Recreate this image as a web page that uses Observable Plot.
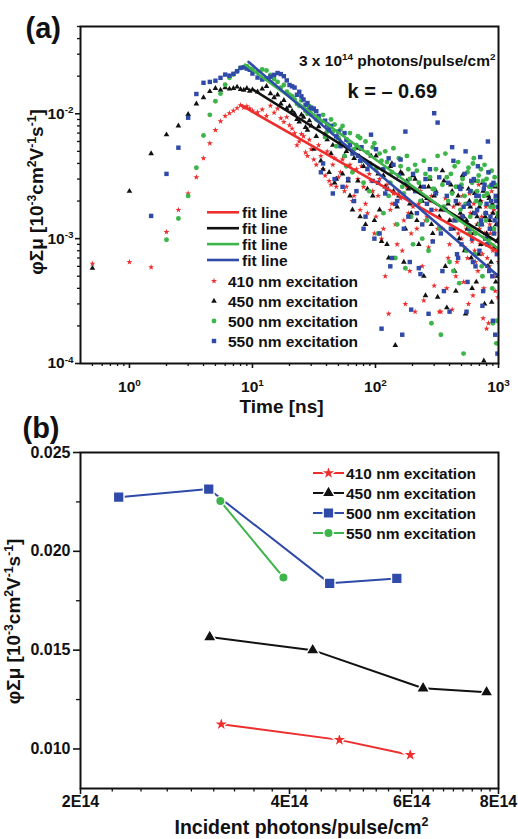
<!DOCTYPE html>
<html><head><meta charset="utf-8">
<script src="https://cdn.jsdelivr.net/npm/d3@7"></script>
<script src="https://cdn.jsdelivr.net/npm/@observablehq/plot@0.6"></script>
<style>
body{margin:0;background:#fff;}
#chart{width:518px;height:839px;position:relative;overflow:hidden;background:#fff}
#chart svg{display:block;position:absolute;left:0}
</style></head><body><div id="chart"></div>
<script>
// ---------- Panel (a): transient photoconductivity vs time ----------
const time = [0.5,1,1.5,2,2.5,3,3.5,4,4.5,5,5.5,6,6.5,7,7.5,8,8.5,9,9.5,10,
  11,12,13,14,15,16,17,18,19,20,
  22,24,26,28,30,33,36,39,42,45,48,52,56,60,65,70,75,80,86,92,98,
  105,112,120,128,136,145,155,165,175,185,195,
  210,225,240,255,270,285,300,
  320,340,360,380,400,420,440,460,480,500,520,540,560,580,600,620,640,660,680,700,720,740,760,780,800,820,840,860,880,900,920,940,960,980,1000];

const red410 = [6.3e-4,6.5e-4,5.9e-4,1.13e-3,1.7e-3,2.3e-3,3.1e-3,4.4e-3,5.8e-3,7.4e-3,8.7e-3,9.6e-3,1.01e-2,1.06e-2,1.11e-2,1.17e-2,1.12e-2,1.15e-2,1.10e-2,1.06e-2,
  1.03e-2,1.08e-2,9.6e-3,1.16e-2,1.02e-2,1.1e-2,9.2e-3,8.6e-3,9.4e-3,8.1e-3,
  7.0e-3,6.0e-3,6.6e-3,4.6e-3,5.2e-3,3.9e-3,4.6e-3,3.2e-3,2.9e-3,3.9e-3,2.6e-3,3.4e-3,2.4e-3,3.0e-3,2.0e-3,3.6e-3,1.7e-3,2.6e-3,1.6e-3,2.9e-3,1.1e-3,
  2.2e-3,1.0e-3,5.0e-4,2.5e-4,1.9e-3,1.3e-3,2.4e-3,8.0e-4,3.0e-4,1.6e-3,1.1e-3,
  2.6e-4,1.9e-3,6.0e-4,1.4e-3,8.5e-4,2.2e-3,4.2e-4,
  1.2e-3,2.6e-4,1.7e-3,4.0e-4,9.0e-4,2.7e-4,1.5e-3,6.5e-4,1.9e-3,1.0e-3,4.5e-4,1.3e-3,7.0e-4,2.3e-3,1.1e-3,3.5e-4,8.0e-4,1.6e-3,5.5e-4,1.2e-3,2.0e-3,7.5e-4,4.0e-4,1.0e-3,1.9e-4,1.4e-3,6.0e-4,1.1e-3,2.4e-3,8.0e-4,1.7e-3,3.8e-4,9.5e-4,1.3e-3,6.5e-4];

const black450 = [5.8e-4,2.4e-3,4.8e-3,6.8e-3,8.0e-3,9.9e-3,1.2e-2,1.35e-2,1.51e-2,1.6e-2,1.55e-2,1.62e-2,1.58e-2,1.6e-2,1.64e-2,1.57e-2,1.55e-2,1.6e-2,1.52e-2,1.56e-2,
  1.5e-2,1.58e-2,1.66e-2,1.45e-2,1.35e-2,1.42e-2,1.2e-2,1.28e-2,1.1e-2,1.15e-2,
  1.0e-2,8.6e-3,9.4e-3,7.4e-3,8.0e-3,6.6e-3,4.2e-3,6.9e-3,3.4e-3,5.6e-3,3.0e-3,6.0e-3,4.6e-3,2.9e-3,1.7e-3,5.3e-3,1.5e-3,3.8e-3,2.5e-3,4.6e-3,1.4e-3,
  3.3e-3,9.5e-4,2.6e-3,7.0e-4,4.0e-3,1.4e-4,2.2e-3,3.3e-3,1.2e-3,2.5e-3,1.6e-3,
  3.0e-3,9.0e-4,2.0e-3,3.5e-4,2.6e-3,1.3e-3,2.2e-3,
  3.4e-4,1.7e-3,2.9e-3,2.8e-4,1.4e-3,2.4e-3,5.5e-4,1.9e-3,1.0e-3,2.6e-3,1.5e-3,2.5e-4,1.2e-3,2.0e-3,7.0e-4,1.6e-3,2.3e-3,4.5e-4,1.3e-3,1.8e-3,9.0e-4,2.8e-3,1.05e-4,1.5e-3,1.1e-3,6.0e-4,2.1e-3,1.2e-3,3.1e-4,1.6e-3,8.5e-4,2.6e-3,1.3e-3,5.0e-4,1.0e-3];

const green500 = [null,null,null,9.8e-4,1.45e-3,2.2e-3,3.7e-3,6.7e-3,9.8e-3,1.26e-2,1.45e-2,1.71e-2,1.94e-2,2.06e-2,2.19e-2,2.33e-2,2.36e-2,2.4e-2,2.3e-2,2.25e-2,
  2.18e-2,2.26e-2,2.22e-2,2.05e-2,1.9e-2,1.8e-2,1.62e-2,1.7e-2,1.5e-2,1.42e-2,
  1.3e-2,1.16e-2,1.12e-2,1.0e-2,9.8e-3,9.0e-3,8.6e-3,6.5e-3,8.0e-3,7.2e-3,5.5e-3,7.5e-3,4.6e-3,6.0e-3,3.4e-3,5.6e-3,6.4e-3,2.8e-3,4.9e-3,3.9e-3,5.8e-3,
  1.1e-3,4.2e-3,5.0e-3,2.2e-3,3.4e-3,7.0e-4,4.4e-3,2.6e-3,5.8e-4,3.6e-3,1.5e-3,
  3.9e-3,2.8e-3,1.0e-3,3.3e-3,8.0e-4,2.1e-4,2.5e-3,
  4.6e-3,1.7e-4,1.8e-3,3.1e-3,6.5e-4,2.3e-3,3.8e-3,1.4e-3,4.4e-4,2.7e-3,1.2e-4,1.9e-3,3.4e-3,1.1e-3,2.4e-3,4.0e-3,7.5e-4,2.0e-3,2.9e-3,1.3e-3,3.6e-3,5.0e-4,2.2e-3,1.6e-3,3.0e-3,9.0e-4,2.6e-3,1.8e-3,3.5e-3,2.1e-4,1.2e-3,2.7e-3,1.45e-4,2.0e-3,1.5e-3];

const blue550 = [null,null,1.52e-3,3.3e-3,5.35e-3,9.3e-3,1.44e-2,1.77e-2,1.8e-2,1.84e-2,1.94e-2,2.06e-2,2.02e-2,2.09e-2,2.19e-2,2.33e-2,2.36e-2,2.3e-2,2.25e-2,2.1e-2,
  1.95e-2,1.88e-2,1.92e-2,1.98e-2,2.05e-2,2.12e-2,2.08e-2,2.0e-2,1.85e-2,1.7e-2,
  1.62e-2,1.5e-2,1.3e-2,1.22e-2,1.12e-2,1.05e-2,3.4e-3,8.8e-3,7.5e-3,2.3e-3,6.6e-3,5.5e-3,7.0e-3,3.0e-3,4.8e-3,2.4e-3,4.2e-3,1.2e-3,3.6e-3,6.8e-3,1.0e-3,
  2.8e-3,1.9e-4,2.3e-3,4.4e-3,7.0e-4,1.9e-3,3.2e-3,1.7e-4,7.2e-3,1.5e-3,2.7e-4,
  2.4e-3,5.8e-4,1.3e-3,3.0e-3,2.5e-4,1.7e-3,1.01e-2,
  8.5e-3,1.1e-3,3.8e-4,2.2e-3,2.6e-4,5.4e-3,1.4e-3,7.5e-4,2.6e-3,9.0e-4,1.8e-3,5.0e-3,4.5e-4,1.2e-3,2.9e-3,6.5e-4,1.6e-3,2.2e-3,3.8e-3,8.0e-4,1.4e-3,2.9e-4,2.5e-3,1.0e-3,1.9e-3,6.0e-3,5.5e-4,1.5e-3,2.7e-3,2.2e-4,1.1e-3,1.7e-4,2.0e-3,1.2e-4,1.3e-3];

// second, interleaved set of sampling times (dense decay tail)
const time2 = [21,23,25,27,29,31.5,34.5,37.5,40.5,43.5,46.5,50,54,58,62,67,72,77,83,89,95,
  101,108,116,124,132,140,150,160,170,180,190,202,217,232,247,262,277,292,
  310,330,350,370,390,410,430,450,470,490,510,530,550,570,590,610,630,650,670,690,710,730,750,770,790,810,830,850,870,890,910,930,950,970,990];

const red410b = [7.6e-3,5.6e-3,6.9e-3,4.9e-3,6.2e-3,4.3e-3,5.6e-3,3.6e-3,5.0e-3,2.7e-3,4.4e-3,3.1e-3,4.3e-3,2.6e-3,3.9e-3,2.2e-3,3.0e-3,3.8e-3,1.9e-3,3.3e-3,2.4e-3,
  1.5e-3,3.0e-3,1.2e-3,2.7e-3,1.7e-3,2.3e-3,9.0e-4,2.1e-3,1.4e-3,2.6e-3,5.5e-4,1.8e-3,1.2e-3,2.4e-3,3.2e-4,1.5e-3,2.0e-3,9.5e-4,
  1.7e-3,2.6e-4,1.2e-3,2.1e-3,7.0e-4,1.4e-3,1.8e-3,5.0e-4,1.1e-3,1.5e-3,2.2e-3,8.5e-4,1.2e-3,3.0e-4,1.6e-3,9.5e-4,1.9e-3,6.5e-4,1.3e-3,2.7e-3,9.0e-4,1.5e-3,2.3e-4,1.1e-3,1.8e-3,7.0e-4,2.1e-4,1.3e-3,9.0e-4,1.6e-3,5.0e-4,1.1e-3,2.0e-3,8.0e-4,3.4e-4];

const black450b = [1.05e-2,9.0e-3,9.8e-3,7.8e-3,8.8e-3,5.2e-3,7.9e-3,3.6e-3,6.2e-3,4.8e-3,2.8e-3,6.4e-3,3.3e-3,5.0e-3,2.2e-3,4.4e-3,2.9e-3,5.2e-3,1.3e-3,3.9e-3,2.2e-3,
  4.6e-3,1.7e-3,3.2e-3,9.0e-4,3.8e-3,2.4e-3,1.8e-3,3.4e-3,6.5e-4,2.9e-3,1.9e-3,3.2e-3,1.4e-3,2.6e-3,5.0e-4,2.1e-3,3.0e-3,1.1e-3,
  2.4e-3,1.5e-3,3.5e-3,6.0e-4,1.9e-3,2.7e-3,1.2e-3,3.8e-4,2.2e-3,1.6e-3,3.2e-3,8.0e-4,1.4e-3,2.5e-3,1.8e-3,4.0e-4,1.1e-3,2.9e-3,1.5e-3,7.5e-4,2.0e-3,1.3e-3,2.4e-3,3.0e-4,1.6e-3,1.0e-3,2.2e-3,1.4e-3,6.5e-4,1.9e-3,1.2e-3,2.7e-3,4.5e-4,1.5e-3,2.0e-3];

const green500b = [1.38e-2,1.2e-2,1.28e-2,1.05e-2,1.15e-2,1.08e-2,8.8e-3,9.8e-3,7.2e-3,9.0e-3,8.2e-3,6.4e-3,8.0e-3,3.8e-3,7.0e-3,5.2e-3,6.6e-3,4.2e-3,6.0e-3,2.4e-3,5.4e-3,
  3.6e-3,4.8e-3,1.6e-3,4.1e-3,2.8e-3,5.3e-3,1.3e-3,3.8e-3,2.3e-3,4.6e-3,3.0e-3,9.0e-4,3.5e-3,2.0e-3,4.2e-3,1.4e-3,3.1e-3,2.5e-3,
  3.6e-3,1.2e-3,2.7e-3,4.8e-3,2.0e-3,3.3e-3,5.5e-4,2.6e-3,4.1e-3,1.7e-3,3.0e-3,2.2e-3,8.0e-4,3.7e-3,1.5e-3,2.8e-3,4.4e-3,1.1e-3,2.4e-3,3.2e-3,1.9e-3,6.0e-4,2.9e-3,3.9e-3,1.4e-3,2.3e-3,3.4e-3,1.0e-3,2.6e-3,4.0e-4,1.8e-3,3.1e-3,2.1e-3,2.2e-4,1.6e-3];

const blue550b = [1.66e-2,1.42e-2,1.38e-2,1.18e-2,1.08e-2,1.1e-2,9.6e-3,4.0e-3,8.2e-3,8.0e-3,3.0e-3,7.2e-3,2.6e-3,6.2e-3,5.6e-3,2.0e-3,4.6e-3,5.4e-3,1.5e-3,4.0e-3,2.9e-3,
  5.2e-3,1.1e-3,3.6e-3,2.5e-3,6.0e-4,3.9e-3,2.0e-3,4.3e-3,1.2e-3,2.8e-3,6.5e-4,3.3e-3,1.6e-3,5.2e-4,2.6e-3,1.9e-3,3.6e-3,9.5e-4,
  2.3e-3,3.1e-3,5.5e-4,1.7e-3,2.8e-3,1.2e-3,4.2e-3,2.0e-3,7.0e-4,2.5e-3,1.5e-3,3.3e-3,2.6e-4,1.9e-3,2.4e-3,1.0e-3,3.0e-3,6.0e-4,1.7e-3,2.2e-3,4.5e-3,1.3e-3,3.8e-4,2.7e-3,1.6e-3,9.0e-4,3.4e-3,1.2e-3,2.0e-3,5.0e-4,2.8e-3,1.4e-3,2.2e-3,7.5e-4,1.8e-3];

// fitted power-law lines (start / end points)
const fitRed   = [[8.2, 0.0116], [1000, 7.8e-4]];
const fitBlack = [[10.1, 0.0156], [1000, 9.3e-4]];
const fitGreen = [[8.7, 0.0248], [1000, 8.3e-4]];
const fitBlue  = [[9.3, 0.0260], [1000, 5.0e-4]];

const legendNamesA = ["410 nm excitation", "450 nm excitation", "500 nm excitation", "550 nm excitation"];

// ---------- Panel (b): peak value vs incident photon density ----------
const photons410 = [3.19e14, 4.72e14, 5.97e14];
const mob410     = [0.01125, 0.01046, 0.0097];
const photons450 = [3.07e14, 4.32e14, 6.23e14, 7.69e14];
const mob450     = [0.01566, 0.0150, 0.01307, 0.01287];
const photons500 = [2.27e14, 3.06e14, 4.57e14, 5.71e14];
const mob500     = [0.02274, 0.02315, 0.01838, 0.01863];
const photons550 = [3.18e14, 3.92e14];
const mob550     = [0.02254, 0.01868];

const legendNamesB = ["410 nm excitation", "450 nm excitation", "500 nm excitation", "550 nm excitation"];

// ---------- styles ----------
const FONT = "'Liberation Sans', Arial, Helvetica, sans-serif";
const C = {red: "#ee2d2d", black: "#111111", green: "#3db54a", blue: "#2f4aa8"};
const INK = "#111";
const supMap = {"-":"⁻","0":"⁰","1":"¹","2":"²","3":"³","4":"⁴","5":"⁵","6":"⁶","7":"⁷","8":"⁸","9":"⁹"};
const unsup = {"⁻":"-","⁰":"0","¹":"1","²":"2","³":"3","⁴":"4","⁵":"5","⁶":"6","⁷":"7","⁸":"8","⁹":"9"};
const pow10 = d => "10" + String(Math.round(Math.log10(d))).split("").map(c => supMap[c]).join("");
const symMap = {star: d3.symbolStar, triangle: d3.symbolTriangle, circle: d3.symbolCircle, square: d3.symbolSquare};

const xMajorA = [1, 10, 100, 1000];
const yMajorA = [1e-4, 1e-3, 1e-2];
const xMinorA = [], yMinorA = [];
for (let e = -1; e <= 2; e++) for (let k = 2; k <= 9; k++) { const v = k * Math.pow(10, e); if (v > 0.4 && v < 1000) xMinorA.push(v); }
for (let e = -4; e <= -2; e++) for (let k = 2; k <= 9; k++) { const v = k * Math.pow(10, e); if (v <= 0.05) yMinorA.push(v); }

const seriesA = [
  {v: red410,   v2: red410b,   color: C.red,   symbol: "star",     r: 1.9},
  {v: black450, v2: black450b, color: C.black, symbol: "triangle", r: 2.1},
  {v: green500, v2: green500b, color: C.green, symbol: "circle",   r: 2.45},
  {v: blue550,  v2: blue550b,  color: C.blue,  symbol: "square",   r: 2.5}
];
const fitsA = [[fitRed, C.red], [fitBlack, C.black], [fitGreen, C.green], [fitBlue, C.blue]];

const yTitle = "φΣμ [10⁻³cm²V⁻¹s⁻¹]";

const svgA = Plot.plot({
  width: 518, height: 420,
  marginLeft: 80, marginRight: 20, marginTop: 26, marginBottom: 57,
  style: {fontFamily: FONT, fontWeight: "bold", color: INK, background: "transparent"},
  x: {type: "log", domain: [0.4, 1000]},
  y: {type: "log", domain: [1e-4, 0.05]},
  marks: [
    ...seriesA.flatMap(s => [
      Plot.dot(time,  {x: d => d, y: (d, i) => s.v[i],  symbol: s.symbol, r: s.r, fill: s.color, clip: true}),
      Plot.dot(time2, {x: d => d, y: (d, i) => s.v2[i], symbol: s.symbol, r: s.r, fill: s.color, clip: true})
    ]),
    ...fitsA.map(([f, c]) => Plot.line(f, {x: d => d[0], y: d => d[1], stroke: c, strokeWidth: 2.6, clip: true})),
    Plot.axisX({ticks: xMajorA, tickFormat: pow10, tickSize: 5, tickPadding: 12, fontSize: 15.5, fontWeight: "bold", strokeWidth: 1.6, label: null}),
    Plot.axisX({ticks: xMinorA, tickFormat: () => "", tickSize: 3, strokeWidth: 1.3, label: null}),
    Plot.axisY({ticks: yMajorA, tickFormat: pow10, tickSize: 5, tickPadding: 2, fontSize: 15.5, fontWeight: "bold", strokeWidth: 1.6, label: null}),
    Plot.axisY({ticks: yMinorA, tickFormat: () => "", tickSize: 3, strokeWidth: 1.3, label: null}),
    Plot.frame({stroke: INK, strokeWidth: 2}),
    Plot.text(["(a)"], {text: d => d, frameAnchor: "top-left", dx: -55, dy: 11, textAnchor: "start", lineAnchor: "bottom", fontSize: 29, fontWeight: "bold", fill: INK}),
    Plot.text(["3 x 10¹⁴ photons/pulse/cm²"], {text: d => d, frameAnchor: "top-right", dx: -3, dy: 39, textAnchor: "end", lineAnchor: "bottom", fontSize: 15.5, fontWeight: "bold", fill: INK}),
    Plot.text(["k = – 0.69"], {text: d => d, frameAnchor: "top-left", dx: 267, dy: 71, textAnchor: "start", lineAnchor: "bottom", fontSize: 20, fontWeight: "bold", fill: INK}),
    Plot.text(["Time [ns]"], {text: d => d, frameAnchor: "bottom", dx: -8, dy: 49, textAnchor: "middle", lineAnchor: "bottom", fontSize: 19, fontWeight: "bold", fill: INK}),
    Plot.text([yTitle], {text: d => d, frameAnchor: "left", dx: -44, dy: -3, rotate: -90, textAnchor: "middle", lineAnchor: "middle", fontSize: 19, fontWeight: "bold", fill: INK})
  ]
});

// legend (a)
{
  const g = d3.select(svgA).append("g").attr("font-family", FONT).attr("font-weight", "bold")
    .attr("font-size", 15.5).attr("fill", INK).attr("text-anchor", "start");
  fitsA.forEach(([f, c], i) => {
    const y = 212.3 + i * 15.9;
    g.append("line").attr("x1", 207).attr("x2", 239).attr("y1", y).attr("y2", y).attr("stroke", c).attr("stroke-width", 2.6);
    g.append("text").attr("x", 242).attr("y", y).attr("dy", "0.36em").text("fit line");
  });
  seriesA.forEach((s, i) => {
    const y = 281 + i * 20;
    g.append("path").attr("transform", `translate(214,${y})`).attr("fill", s.color)
      .attr("d", d3.symbol(symMap[s.symbol], Math.PI * s.r * s.r)());
    g.append("text").attr("x", 228).attr("y", y).attr("dy", "0.36em").text(legendNamesA[i]);
  });
}

// ---------- Panel (b) ----------
const seriesB = [
  {x: photons410, y: mob410, color: C.red,   symbol: "star",     r: 4.9},
  {x: photons450, y: mob450, color: C.black, symbol: "triangle", r: 4.9},
  {x: photons500, y: mob500, color: C.blue,  symbol: "square",   r: 6.0},
  {x: photons550, y: mob550, color: C.green, symbol: "circle",   r: 4.7}
];
const xMajorB = [2e14, 4e14, 6e14, 8e14];
const xMinorB = [];
for (let a = 2; a < 8; a += 2) for (let k = 1; k <= 8; k++) xMinorB.push((a + k * 2 / 9) * 1e14);
const yMajorB = [0.010, 0.015, 0.020, 0.025];
const yMinorB = [0.0125, 0.0175, 0.0225];

const svgB = Plot.plot({
  width: 518, height: 439,
  marginLeft: 80, marginRight: 20, marginTop: 52, marginBottom: 51,
  style: {fontFamily: FONT, fontWeight: "bold", color: INK, background: "transparent"},
  x: {type: "log", domain: [2e14, 8e14]},
  y: {domain: [0.008, 0.025]},
  marks: [
    ...seriesB.map(s => Plot.line(s.x, {x: d => d, y: (d, i) => s.y[i], stroke: s.color, strokeWidth: 2})),
    ...seriesB.map(s => Plot.dot(s.x, {x: d => d, y: (d, i) => s.y[i], symbol: s.symbol, r: s.r, fill: s.color, stroke: "white", strokeWidth: 1.4})),
    Plot.axisX({ticks: xMajorB, tickFormat: d => Math.round(d / 1e14) + "E14", tickSize: 6, tickPadding: 1, fontSize: 16, fontWeight: "bold", strokeWidth: 1.6, label: null}),
    Plot.axisX({ticks: xMinorB, tickFormat: () => "", tickSize: 3.5, strokeWidth: 1.3, label: null}),
    Plot.axisY({ticks: yMajorB, tickFormat: d3.format(".3f"), tickSize: 7, tickPadding: 3, fontSize: 16, fontWeight: "bold", strokeWidth: 1.6, label: null}),
    Plot.axisY({ticks: yMinorB, tickFormat: () => "", tickSize: 4, strokeWidth: 1.3, label: null}),
    Plot.frame({stroke: INK, strokeWidth: 2}),
    Plot.text(["(b)"], {text: d => d, frameAnchor: "top-left", dx: -58, dy: -15, textAnchor: "start", lineAnchor: "bottom", fontSize: 29, fontWeight: "bold", fill: INK}),
    Plot.text(["Incident photons/pulse/cm²"], {text: d => d, frameAnchor: "bottom", dx: 12, dy: 45, textAnchor: "middle", lineAnchor: "bottom", fontSize: 19.5, fontWeight: "bold", fill: INK}),
    Plot.text([yTitle], {text: d => d, frameAnchor: "left", dx: -67, dy: 1, rotate: -90, textAnchor: "middle", lineAnchor: "middle", fontSize: 19, fontWeight: "bold", fill: INK})
  ]
});

// legend (b)
{
  const g = d3.select(svgB).append("g").attr("font-family", FONT).attr("font-weight", "bold")
    .attr("font-size", 15.5).attr("fill", INK).attr("text-anchor", "start");
  seriesB.forEach((s, i) => {
    const y = 73 + i * 20;
    g.append("line").attr("x1", 313).attr("x2", 344).attr("y1", y).attr("y2", y).attr("stroke", s.color).attr("stroke-width", 2);
    g.append("path").attr("transform", `translate(328.5,${y})`).attr("fill", s.color).attr("stroke", "white").attr("stroke-width", 1.4)
      .attr("d", d3.symbol(symMap[s.symbol], Math.PI * s.r * s.r)());
    g.append("text").attr("x", 346).attr("y", y).attr("dy", "0.36em").text(legendNamesB[i]);
  });
}

const root = document.getElementById("chart");
svgA.style.top = "0px";
svgB.style.top = "400px";
root.appendChild(svgA);
root.appendChild(svgB);

// render Unicode superscripts as raised, smaller tspans (text stays real text)
function supify(svg) {
  const supRe = /[⁻⁰¹²³⁴⁵⁶⁷⁸⁹]/;
  svg.querySelectorAll("text").forEach(t => {
    if (t.children.length) return;
    const s = t.textContent;
    if (!supRe.test(s)) return;
    const fs = parseFloat(getComputedStyle(t).fontSize) || 15;
    const shift = fs * 0.36;
    const parts = s.match(/([⁻⁰¹²³⁴⁵⁶⁷⁸⁹]+|[^⁻⁰¹²³⁴⁵⁶⁷⁸⁹]+)/g);
    t.textContent = "";
    let raised = false;
    parts.forEach(p => {
      const isSup = supRe.test(p[0]);
      const ts = document.createElementNS("http://www.w3.org/2000/svg", "tspan");
      if (isSup) {
        ts.textContent = p.split("").map(c => unsup[c]).join("");
        ts.setAttribute("font-size", (fs * 0.64).toFixed(2));
        if (!raised) ts.setAttribute("dy", (-shift).toFixed(2));
        raised = true;
      } else {
        ts.textContent = p;
        if (raised) ts.setAttribute("dy", shift.toFixed(2));
        raised = false;
      }
      t.appendChild(ts);
    });
  });
}
supify(svgA);
supify(svgB);
</script>
</body></html>
